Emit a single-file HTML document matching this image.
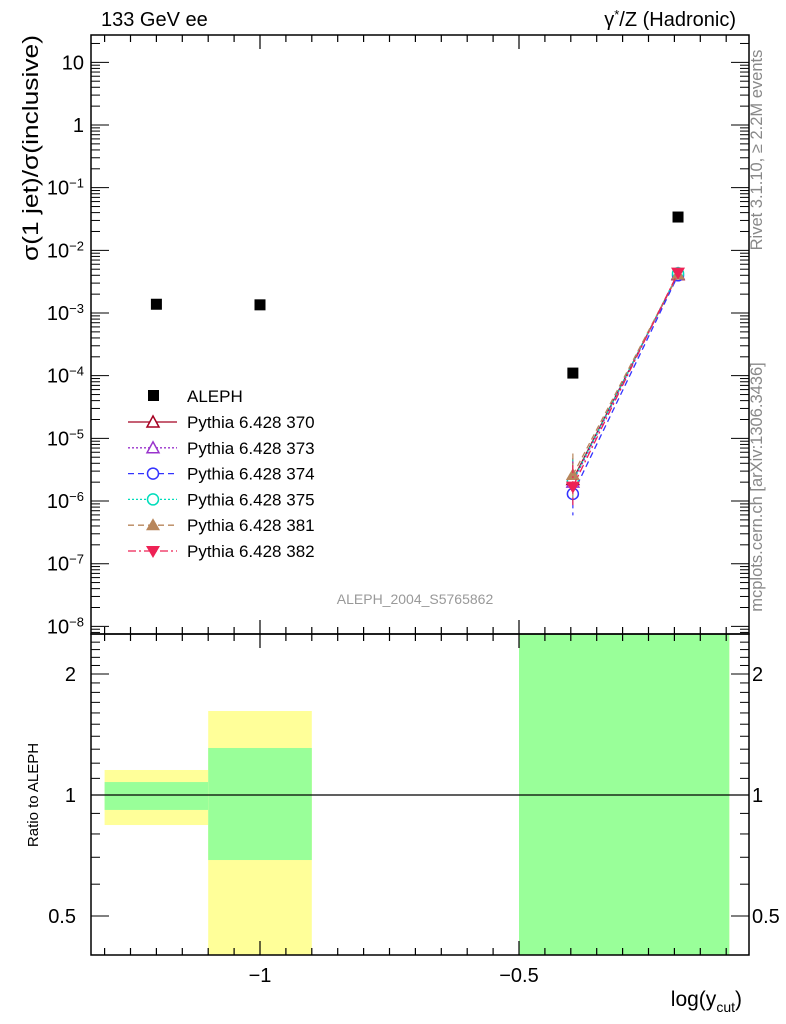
<!DOCTYPE html>
<html><head><meta charset="utf-8"><style>
body{margin:0;background:#fff;}
svg{display:block;font-family:"Liberation Sans",sans-serif;}
</style></head><body>
<svg id="c" width="786" height="1024" viewBox="0 0 786 1024"></svg>
<script>
const xData=[-1.2,-1.0,-0.396,-0.193];
const alephVals=[1.38e-3,1.35e-3,1.1e-4,0.034];
const mcX=[-0.396,-0.193];
const mc370=[2.2e-6,4.1e-3];
const mc373=[2.0e-6,4.2e-3];
const mc374=[1.3e-6,4.0e-3];
const mc375=[2.1e-6,4.3e-3];
const mc381=[2.6e-6,4.1e-3];
const mc382=[1.7e-6,4.4e-3];
const binLo=[-1.3,-1.1,-0.5];
const binHi=[-1.1,-0.9,-0.094];
const yelLo=[0.842,0.3,0.3];
const yelHi=[1.154,1.618,3];
const grnLo=[0.918,0.689,0.3];
const grnHi=[1.077,1.309,3];
const yTickMain=[10,1,0.1,0.01,1e-3,1e-4,1e-5,1e-6,1e-7,1e-8];
const yTickMainLbl=["10","1","10<tspan dy='-7' font-size='13'>−1</tspan>","10<tspan dy='-7' font-size='13'>−2</tspan>","10<tspan dy='-7' font-size='13'>−3</tspan>","10<tspan dy='-7' font-size='13'>−4</tspan>","10<tspan dy='-7' font-size='13'>−5</tspan>","10<tspan dy='-7' font-size='13'>−6</tspan>","10<tspan dy='-7' font-size='13'>−7</tspan>","10<tspan dy='-7' font-size='13'>−8</tspan>"];
const xTicks=[-1,-0.5];
const xTickLbl=["−1","−0.5"];
const rTicks=[2,1,0.5];
const rTickLbl=["2","1","0.5"];

const L=91,R=749,T=35,MB=634,RB=955;
const X=v=>260+(v+1)*518;
const Y=v=>125-62.67*Math.log10(v);
const YR=r=>Math.max(MB,Math.min(RB,795-402*Math.log10(r)));
const svg=document.getElementById('c');
let h='';
for(let i=0;i<binLo.length;i++){
 h+=`<rect x="${X(binLo[i])}" y="${YR(yelHi[i])}" width="${X(binHi[i])-X(binLo[i])}" height="${YR(yelLo[i])-YR(yelHi[i])}" fill="#ffff99"/>`;
 h+=`<rect x="${X(binLo[i])}" y="${YR(grnHi[i])}" width="${X(binHi[i])-X(binLo[i])}" height="${YR(grnLo[i])-YR(grnHi[i])}" fill="#99ff99"/>`;
}
h+=`<line x1="${L}" x2="${R}" y1="${YR(1)}" y2="${YR(1)}" stroke="#000" stroke-width="1.2"/>`;
h+=`<rect x="${L}" y="${T}" width="${R-L}" height="${MB-T}" fill="none" stroke="#000" stroke-width="1.5"/>`;
h+=`<rect x="${L}" y="${MB}" width="${R-L}" height="${RB-MB}" fill="none" stroke="#000" stroke-width="1.5"/>`;
for(let v=-1.3;v<=-0.05;v+=0.05){
 const big=Math.abs(v*10-Math.round(v*10))<1e-6&&Math.abs(Math.round(v*10)%5)===0;
 const len=big?14:7, x=X(v);
 [[T,1],[MB,-1],[MB,1],[RB,-1]].forEach(([y0,d])=>{h+=`<line x1="${x}" x2="${x}" y1="${y0}" y2="${y0+d*len}" stroke="#000" stroke-width="1.2"/>`;});
}
xTicks.forEach((v,i)=>{h+=`<text x="${X(v)}" y="982" font-size="20" text-anchor="middle">${xTickLbl[i]}</text>`;});
for(let e=-9;e<=1;e++){for(let k=1;k<10;k++){const v=k*Math.pow(10,e),y=Y(v);if(y<T||y>MB)continue;const len=k===1?18:9;
 h+=`<line x1="${L}" x2="${L+len}" y1="${y}" y2="${y}" stroke="#000" stroke-width="1"/><line x1="${R}" x2="${R-len}" y1="${y}" y2="${y}" stroke="#000" stroke-width="1"/>`;}}
yTickMain.forEach((v,i)=>{h+=`<text x="84" y="${Y(v)+7}" font-size="20" text-anchor="end">${yTickMainLbl[i]}</text>`;});
for(let r=0.4;r<=2.5;r+=0.1){const y=YR(r);const big=[0.5,1,2].some(t=>Math.abs(t-r)<1e-6);const len=big?18:9;
 h+=`<line x1="${L}" x2="${L+len}" y1="${y}" y2="${y}" stroke="#000"/><line x1="${R}" x2="${R-len}" y1="${y}" y2="${y}" stroke="#000"/>`;}
rTicks.forEach((v,i)=>{h+=`<text x="76" y="${YR(v)+7}" font-size="20" text-anchor="end">${rTickLbl[i]}</text><text x="752" y="${YR(v)+7}" font-size="20">${rTickLbl[i]}</text>`;});
const series=[
 {n:'370',v:mc370,c:'#a50021',d:'',m:'tri'},
 {n:'373',v:mc373,c:'#9933cc',d:'2,2',m:'tri'},
 {n:'374',v:mc374,c:'#3333ff',d:'6,4',m:'circ'},
 {n:'375',v:mc375,c:'#00ddbb',d:'2,2',m:'circ'},
 {n:'381',v:mc381,c:'#b8865b',d:'6,4',m:'ftri'},
 {n:'382',v:mc382,c:'#ee2255',d:'8,3,2,3',m:'dtri'}];
function marker(m,x,y,c){
 if(m==='tri')return `<polygon points="${x},${y-6} ${x-6},${y+5} ${x+6},${y+5}" fill="#fff" stroke="${c}" stroke-width="1.5"/>`;
 if(m==='circ')return `<circle cx="${x}" cy="${y}" r="5.5" fill="#fff" stroke="${c}" stroke-width="1.5"/>`;
 if(m==='ftri')return `<polygon points="${x},${y-7} ${x-7},${y+5} ${x+7},${y+5}" fill="${c}"/>`;
 return `<polygon points="${x},${y+7} ${x-7},${y-5} ${x+7},${y-5}" fill="${c}"/>`;
}
series.forEach(s=>{
 const pts=mcX.map((x,i)=>`${X(x)},${Y(s.v[i])}`).join(' ');
 h+=`<g><polyline points="${pts}" fill="none" stroke="${s.c}" stroke-width="1.3" ${s.d?`stroke-dasharray="${s.d}"`:''}/>`;
 h+=`<line x1="${X(mcX[0])}" x2="${X(mcX[0])}" y1="${Y(s.v[0]*2.2)}" y2="${Y(s.v[0]/2.2)}" stroke="${s.c}" stroke-width="1.2" ${s.d?`stroke-dasharray="${s.d}"`:''}/>`;
 mcX.forEach((x,i)=>{h+=marker(s.m,X(x),Y(s.v[i]),s.c);});
 h+='</g>';
});
h+='<g>';
xData.forEach((x,i)=>{h+=`<rect x="${X(x)-5.5}" y="${Y(alephVals[i])-5.5}" width="11" height="11" fill="#000"/>`;});
h+='</g>';
h+=`<g><rect x="148" y="390" width="11" height="11" fill="#000"/><text x="187" y="402" font-size="17">ALEPH</text>`;
series.forEach((s,i)=>{const y=422+i*25.8;
 h+=`<line x1="128" x2="177" y1="${y}" y2="${y}" stroke="${s.c}" stroke-width="1.3" ${s.d?`stroke-dasharray="${s.d}"`:''}/>`+marker(s.m,153,y,s.c)+`<text x="187" y="${y+6}" font-size="17">Pythia 6.428 ${s.n}</text>`;});
h+='</g>';
h+=`<text x="101" y="26" font-size="20">133 GeV ee</text>`;
h+=`<text x="736" y="26" font-size="20" text-anchor="end">γ<tspan dy="-7" font-size="13">*</tspan><tspan dy="7">/Z (Hadronic)</tspan></text>`;
h+=`<text transform="translate(38,35) rotate(-90)" font-size="22" text-anchor="end" textLength="226" lengthAdjust="spacingAndGlyphs">σ(1 jet)/σ(inclusive)</text>`;
h+=`<text transform="translate(38,795) rotate(-90)" font-size="15" text-anchor="middle">Ratio to ALEPH</text>`;
h+=`<text x="742" y="1006" font-size="21" text-anchor="end">log(y<tspan dy="6" font-size="14">cut</tspan><tspan dy="-6">)</tspan></text>`;
h+=`<text x="415" y="604" font-size="14" fill="#999" text-anchor="middle">ALEPH_2004_S5765862</text>`;
h+=`<text transform="translate(762,150) rotate(-90)" font-size="16.5" fill="#888" text-anchor="middle">Rivet 3.1.10, ≥ 2.2M events</text>`;
h+=`<text transform="translate(762,487) rotate(-90)" font-size="16.5" fill="#888" text-anchor="middle">mcplots.cern.ch [arXiv:1306.3436]</text>`;
svg.innerHTML=h;
</script>
</body></html>
